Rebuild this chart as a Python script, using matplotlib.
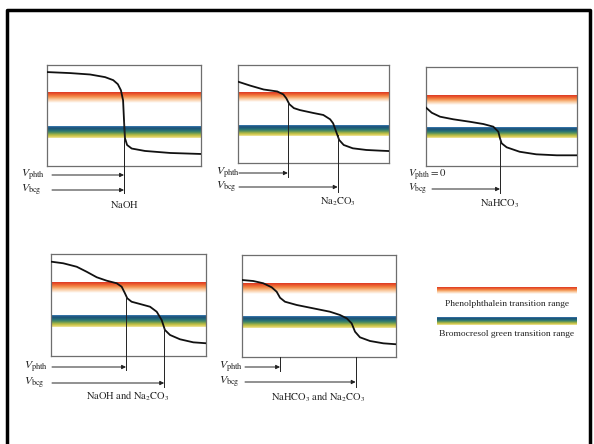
import matplotlib
matplotlib.use("Agg")
import matplotlib.pyplot as plt
import matplotlib.transforms as mtransforms
from matplotlib.colors import LinearSegmentedColormap
from matplotlib.lines import Line2D
import numpy as np

plt.rcParams["font.family"] = ["Liberation Serif", "DejaVu Serif"]
plt.rcParams["mathtext.fontset"] = "stix"

# titration curves
# x = volume of acid added (% of axis), y = pH (% of axis)
naoh_vol = [0, 15, 28, 37.7, 43, 46, 48, 49.4, 50, 50.6, 52, 55, 63.6, 80, 100]
naoh_ph = [93, 92, 90.6, 88, 85, 81, 75, 65, 45.5, 27.7, 20.8, 17.3, 14.9, 12.9, 11.9]

carb_vol = [0, 8, 17, 26, 30, 32, 34, 37, 41, 50, 56.5, 61, 63, 65, 67, 70, 76, 85, 94, 100]
carb_ph = [83, 79, 75, 73, 70, 66, 60, 56, 54, 51, 49, 44.6, 40.5, 32, 23.5, 18.4, 15, 13.3, 12.6, 12.2]

bicarb_vol = [0, 3.8, 9.3, 18, 29, 38, 44.6, 47.9, 49, 50.1, 53.4, 62, 73, 86.6, 100]
bicarb_ph = [59, 53.8, 49.8, 47.2, 44.7, 42.4, 39.7, 34.6, 28, 22.9, 18.9, 14.4, 11.8, 10.8, 10.8]

mix1_vol = [0, 7.9, 16.6, 23, 29.5, 36, 42.4, 45.6, 47.7, 49.2, 52, 57.4, 63.9, 68.2, 71.4,
            73.5, 76.8, 83.2, 91.8, 100]
mix1_ph = [92.5, 90.9, 87.5, 82.6, 77.2, 73.8, 71.3, 67.9, 61.5, 56.6, 53.2, 51, 48.3, 43.4,
           35.3, 25.5, 20.6, 16.4, 13.4, 12.5]

mix2_vol = [0, 7.3, 13.8, 19.3, 22.5, 24.7, 27.9, 35.5, 46.3, 57.1, 63.6, 68, 71.2, 73.4,
            76.6, 83.1, 91.8, 100]
mix2_ph = [75.5, 74.5, 72.3, 68.3, 64, 58.1, 54.2, 51, 47.7, 44.4, 41.2, 37.9, 33, 24.8,
           19.3, 15.7, 13.4, 12.5]

# end points (V_phth, V_bcg) on the volume axis, None = zero
end_points = [(50, 50), (33, 66), (None, 49), (48.4, 73), (24.7, 73.8)]
labels = [r"$\mathrm{NaOH}$", r"$\mathrm{Na_2CO_3}$", r"$\mathrm{NaHCO_3}$",
          r"$\mathrm{NaOH\ and\ Na_2CO_3}$", r"$\mathrm{NaHCO_3\ and\ Na_2CO_3}$"]

# indicator ranges on the pH axis
phth_range = (62, 72)
bcg_range = (28, 39)

W, H = 594, 444
fig = plt.figure(figsize=(W / 100, H / 100), dpi=100)
px = mtransforms.Affine2D().scale(1 / 100, -1 / 100).translate(0, H / 100) + fig.dpi_scale_trans

red_cmap = LinearSegmentedColormap.from_list(
    "phth", ["#dc3a24", "#e9562c", "#f07a3c", "#f5a062", "#f9c79a", "#fce3cc", "#ffffff"])
blue_cmap = LinearSegmentedColormap.from_list(
    "bcg", ["#3c7fb4", "#1d4f78", "#1f6178", "#2f7a72", "#5f9558", "#a6b446", "#d6c94e", "#efe6a2"])
grad = np.linspace(0, 1, 60).reshape(-1, 1)


def add_box(l, t, r, b):
    return fig.add_axes([l / W, 1 - b / H, (r - l) / W, (b - t) / H])


# layout of each panel in pixels
boxes = [(47, 65, 201, 166), (238, 65, 389, 163), (426, 67, 577, 166),
         (51, 254, 206, 356), (242, 255, 396, 357)]
curves = [(naoh_vol, naoh_ph), (carb_vol, carb_ph), (bicarb_vol, bicarb_ph),
          (mix1_vol, mix1_ph), (mix2_vol, mix2_ph)]
arrow_y = [(175, 190), (173, 187), (175, 189), (367, 383), (367, 382)]
line_bottom = [(193, 193), (177, 192), (None, 193), (370, 387), (371, 387)]
line_top = [(45, 45), (61, 28.6), (None, 28), (58, 27.5), (0, 0)]
arrow_start = [52, 239, 432, 52, 245]
vlabel_x = [21, 216, 408, 24, 219]
name_pos = [(124, 205), (338, 202), (500, 204), (128, 396), (318, 397)]

for i, (l, t, r, b) in enumerate(boxes):
    ax = add_box(l, t, r, b)
    ax.set_xticks([])
    ax.set_yticks([])
    for s in ax.spines.values():
        s.set_color("#6e6e6e")
        s.set_linewidth(0.9)
    ax.imshow(grad, cmap=red_cmap, aspect="auto", extent=[0, 100, phth_range[0], phth_range[1]],
              origin="upper", zorder=1)
    ax.imshow(grad, cmap=blue_cmap, aspect="auto", extent=[0, 100, bcg_range[0], bcg_range[1]],
              origin="upper", zorder=1)
    ax.set_xlim(0, 100)
    ax.set_ylim(0, 100)
    vol, ph = curves[i]
    ax.plot(vol, ph, color="#111111", lw=1.3, zorder=3)

    blend = mtransforms.blended_transform_factory(ax.transData, px)
    box_h = b - t
    for k, xe in enumerate(end_points[i]):
        if xe is None:
            continue
        ytop = b - line_top[i][k] / 100 * box_h
        fig.add_artist(Line2D([xe, xe], [ytop, line_bottom[i][k]], transform=blend,
                              color="#222222", lw=0.7))
        ya = arrow_y[i][k]
        ax.annotate("", xy=(xe, ya), xycoords=blend, xytext=(arrow_start[i], ya), textcoords=px,
                    arrowprops=dict(arrowstyle="-|>", lw=0.7, color="#222222",
                                    shrinkA=0, shrinkB=0, mutation_scale=6),
                    annotation_clip=False)

    if end_points[i][0] is not None:
        phth_text = r"$V_{\mathrm{phth}}$"
        fs = 8.5
    else:
        phth_text = r"$V_{\mathrm{phth}} = 0$"
        fs = 7.8
    fig.text(vlabel_x[i], arrow_y[i][0], phth_text, transform=px, fontsize=fs,
             ha="left", va="center", color="#222222")
    fig.text(vlabel_x[i], arrow_y[i][1], r"$V_{\mathrm{bcg}}$", transform=px, fontsize=fs,
             ha="left", va="center", color="#222222")
    fig.text(name_pos[i][0], name_pos[i][1], labels[i], transform=px, fontsize=7.5,
             ha="center", va="center", color="#222222")

# key for the two indicator bands
for (l, t, r, b), cmap, text, ty in [((437, 287, 577, 294), red_cmap, "Phenolphthalein transition range", 304),
                                      ((437, 317, 577, 325), blue_cmap, "Bromocresol green transition range", 334)]:
    kax = add_box(l, t, r, b)
    kax.imshow(grad, cmap=cmap, aspect="auto", extent=[0, 1, 0, 1], origin="upper")
    kax.axis("off")
    fig.text((l + r) / 2, ty, text, transform=px, fontsize=6.8, ha="center", va="center",
             color="#222222")

# outer frame
fig.add_artist(Line2D([7, 7, 590, 590], [444, 10, 10, 444], transform=px, color="black", lw=2.5))

fig.savefig("out.png", dpi=100)
